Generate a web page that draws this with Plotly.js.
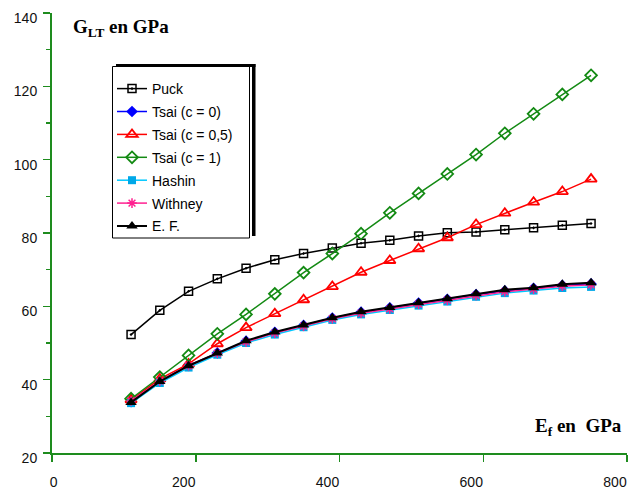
<!DOCTYPE html>
<html>
<head>
<meta charset="utf-8">
<script src="https://cdn.plot.ly/plotly-3.0.1.min.js"></script>
<style>html,body{margin:0;padding:0;background:#fff;}#chart{width:634px;height:489px;}</style>
</head>
<body>
<div id="chart"></div>
<script>
// E_f values (GPa)
const ef = [110, 150, 190, 230, 270, 310, 350, 390, 430, 470, 510, 550, 590, 630, 670, 710, 750];
// G_LT values (GPa) per model
const puck     = [52.3, 58.9, 64.1, 67.5, 70.4, 72.7, 74.4, 75.9, 77.2, 78.0, 79.2, 80.1, 80.3, 80.9, 81.4, 82.1, 82.6];
const tsaiC0   = [34.0, 39.6, 43.9, 47.3, 50.5, 52.9, 54.8, 56.8, 58.4, 59.6, 60.9, 61.9, 63.2, 64.2, 64.9, 65.7, 66.1];
const tsaiC05  = [34.5, 40.2, 44.3, 49.8, 54.2, 58.0, 61.8, 65.4, 69.3, 72.5, 75.7, 78.7, 82.3, 85.4, 88.4, 91.3, 94.7];
const tsaiC1   = [34.8, 40.7, 46.6, 52.5, 57.8, 63.4, 69.2, 74.4, 79.8, 85.5, 90.8, 96.1, 101.4, 107.2, 112.5, 117.8, 123.0];
const hashin   = [33.6, 39.1, 43.3, 46.8, 50.0, 52.3, 54.3, 56.3, 57.8, 59.0, 60.2, 61.3, 62.6, 63.6, 64.3, 65.0, 65.3];
const withney  = [34.2, 39.6, 43.8, 47.2, 50.3, 52.7, 54.6, 56.6, 58.1, 59.3, 60.6, 61.7, 63.0, 64.0, 64.7, 65.5, 65.9];
const ef_exp   = [33.8, 39.5, 43.8, 47.3, 50.6, 53.0, 54.9, 56.9, 58.5, 59.7, 61.0, 62.1, 63.4, 64.5, 65.1, 66.0, 66.4];

const names = ["Puck", "Tsai (c = 0)", "Tsai (c = 0,5)", "Tsai (c = 1)", "Hashin", "Withney", "E. F."];
const xTicks = [0, 200, 400, 600, 800];
const xTickText = ["\u00a0\u00a0\u00a0\u00a0\u00a0\u00a0\u00a00", "200", "400", "600", "800"];
const yTicks = [20, 40, 60, 80, 100, 120, 140];

const traces = [
  {x: ef, y: puck, name: names[0], legendgroup: "g1", mode: "lines+markers",
   line: {color: "#000000", width: 1.5},
   marker: {symbol: "square-open-dot", size: 8, color: "#000000", line: {width: 1.5, color: "#000000"}}},
  {x: ef, y: tsaiC0, name: names[1], legendgroup: "g2", mode: "lines+markers",
   line: {color: "#0000ff", width: 1.5},
   marker: {symbol: "diamond", size: 9, color: "#0000ff"}},
  {x: ef, y: tsaiC05, name: names[2], legendgroup: "g3", mode: "lines+markers",
   line: {color: "#ff0000", width: 1.5},
   marker: {symbol: "triangle-up-open", size: 10, color: "#ff0000", line: {width: 1.8, color: "#ff0000"}}},
  {x: ef, y: tsaiC1, name: names[3], legendgroup: "g4", mode: "lines+markers",
   line: {color: "#138a13", width: 1.5},
   marker: {symbol: "diamond-open", size: 9, color: "#138a13", line: {width: 1.8, color: "#138a13"}}},
  {x: ef, y: hashin, name: names[4], legendgroup: "g5", mode: "lines+markers",
   line: {color: "#00c8ff", width: 1.5},
   marker: {symbol: "square", size: 8, color: "#00a8e8"}},
  {x: ef, y: withney, name: names[5], legendgroup: "g6", mode: "lines+markers",
   line: {color: "#ff2090", width: 1.5},
   marker: {symbol: "asterisk-open", size: 8, color: "#ff2090", line: {width: 1.5, color: "#ff2090"}}},
  {x: ef, y: ef_exp, name: names[6], legendgroup: "g7", mode: "lines+markers",
   line: {color: "#000000", width: 2},
   marker: {symbol: "triangle-up", size: 10, color: "#000000"}}
];

const axColor = "#1e8c1e";
const px = v => (v - 52) / 575;
const py = v => (453 - v) / 440;

const layout = {
  width: 634, height: 489,
  margin: {l: 52, r: 7, t: 13, b: 36},
  paper_bgcolor: "#ffffff", plot_bgcolor: "#ffffff",
  font: {family: "Liberation Sans, Arial, sans-serif", size: 14, color: "#111111"},
  showlegend: true,
  xaxis: {
    range: [0, 800], tickvals: xTicks, ticktext: xTickText,
    showgrid: false, zeroline: false, showline: true, linecolor: axColor, linewidth: 2,
    ticks: "outside", ticklen: 7, tickwidth: 1.5, tickcolor: axColor,
    ticklabelstandoff: 8, ticklabelshift: -12,
    tickfont: {family: "Liberation Sans, Arial, sans-serif", size: 14, color: "#111111"}
  },
  yaxis: {
    range: [20, 140], tickvals: yTicks,
    showgrid: false, zeroline: false, showline: true, linecolor: axColor, linewidth: 2,
    ticks: "outside", ticklen: 7, tickwidth: 1.5, tickcolor: axColor,
    ticklabelshift: 5, ticklabelstandoff: 3,
    minor: {dtick: 10, ticks: "outside", ticklen: 4, tickwidth: 1.5, tickcolor: axColor, showgrid: false},
    tickfont: {family: "Liberation Sans, Arial, sans-serif", size: 14, color: "#111111"}
  },
  legend: {
    x: px(112), y: py(73), xanchor: "left", yanchor: "top",
    bgcolor: "rgba(0,0,0,0)", borderwidth: 0,
    traceorder: "grouped", tracegroupgap: 1.7,
    font: {family: "Liberation Sans, Arial, sans-serif", size: 14, color: "#000000"}
  },
  shapes: [
    {type: "rect", xref: "paper", yref: "paper", x0: px(112.5), x1: px(249.5), y0: py(238), y1: py(66.5),
     fillcolor: "#ffffff", line: {color: "#000000", width: 1}, layer: "above"},
    {type: "rect", xref: "paper", yref: "paper", x0: px(116), x1: px(255.5), y0: py(67), y1: py(64),
     fillcolor: "#000000", line: {width: 0}, layer: "above"},
    {type: "rect", xref: "paper", yref: "paper", x0: px(252), x1: px(255.5), y0: py(236), y1: py(64),
     fillcolor: "#000000", line: {width: 0}, layer: "above"}
  ],
  annotations: [
    {xref: "paper", yref: "paper", x: px(71), y: py(28), xanchor: "left", yanchor: "middle", showarrow: false,
     text: "<b>G<sub>LT</sub> en GPa</b>",
     font: {family: "Liberation Serif, Times New Roman, serif", size: 19, color: "#000000"}},
    {xref: "paper", yref: "paper", x: px(624), y: py(427), xanchor: "right", yanchor: "middle", showarrow: false,
     text: "<b>E<sub>f</sub> en\u00a0 GPa</b>",
     font: {family: "Liberation Serif, Times New Roman, serif", size: 19, color: "#000000"}}
  ]
};

Plotly.newPlot("chart", traces, layout, {displayModeBar: false, staticPlot: true});
</script>
</body>
</html>
